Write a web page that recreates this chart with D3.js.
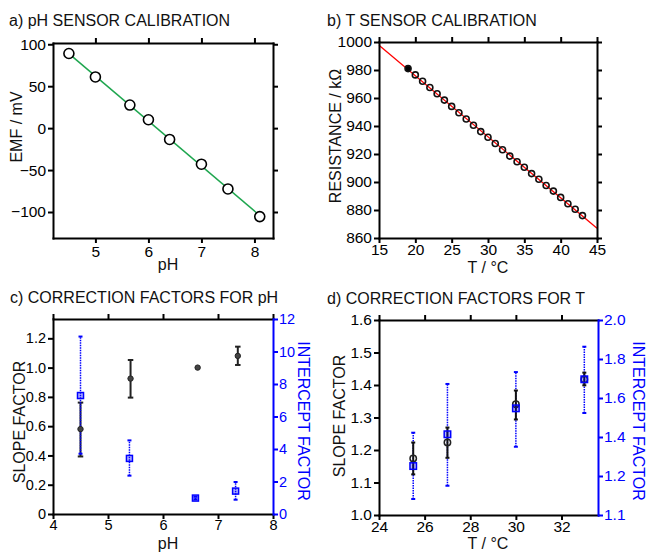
<!DOCTYPE html>
<html>
<head>
<meta charset="utf-8">
<title>sensor calibration</title>
<script src="https://cdn.jsdelivr.net/npm/d3@7"></script>
<style>
    body{
        margin:0;
        background:#fff;
        font-family:"Liberation Sans",Arial,Helvetica,sans-serif;
    }
    .title{font-size:16px;fill:#111;}
    .label{font-size:16px;fill:#111;}
</style>
</head>
<body>
<div id="chart"></div>
<script>
// a) pH sensor calibration
var phValues = [4.5, 5, 5.65, 6, 6.4, 7, 7.5, 8.1]
var emfValues = [89, 61, 27.5, 10, -13.5, -43, -72.5, -105.5]
var emfFitSlope = -53.6
var emfFitIntercept = 330
var phTicks = [5, 6, 7, 8]
var emfTicks = [-100, -50, 0, 50, 100]

// b) T sensor calibration
var tempValues = [19, 20, 21, 22, 23, 24, 25, 26, 27, 28, 29, 30, 31, 32, 33, 34, 35, 36, 37, 38, 39, 40, 41, 42, 43]
var resistanceValues = [981, 976.5, 972, 967.5, 963, 958.5, 954, 949.5, 945, 940.5, 936, 932, 927.5, 923, 918.5, 914.5, 910.5, 906, 902, 897.5, 893.5, 889, 884.5, 880.5, 876]
var resFitSlope = -4.36
var resFitIntercept = 1063.1
var tempTicks = [15, 20, 25, 30, 35, 40, 45]
var resTicks = [860, 880, 900, 920, 940, 960, 980, 1000]

// c) correction factors for pH
var cSlopePh = [4.5, 5.41, 6.63, 7.36]
var cSlope = [0.58, 0.925, 1.0, 1.08]
var cSlopeLo = [0.393, 0.795, 1.0, 1.018]
var cSlopeHi = [0.761, 1.052, 1.0, 1.143]
var cInterceptPh = [4.5, 5.39, 6.59, 7.32]
var cIntercept = [7.29, 3.42, 0.98, 1.41]
var cInterceptLo = [3.71, 2.36, 0.9, 0.88]
var cInterceptHi = [10.92, 4.53, 1.06, 1.97]
var cXTicks = [4, 5, 6, 7, 8]
var cSlopeTicks = [0, 0.2, 0.4, 0.6, 0.8, 1.0, 1.2]
var cInterceptTicks = [0, 2, 4, 6, 8, 10, 12]

// d) correction factors for T
var dTemp = [25.5, 27, 30, 33]
var dSlope = [1.174, 1.223, 1.341, 1.417]
var dSlopeLo = [1.125, 1.176, 1.294, 1.399]
var dSlopeHi = [1.223, 1.269, 1.383, 1.438]
var dIntercept = [1.251, 1.414, 1.547, 1.696]
var dInterceptLo = [1.082, 1.150, 1.350, 1.523]
var dInterceptHi = [1.422, 1.672, 1.733, 1.863]
var dXTicks = [24, 26, 28, 30, 32]
var dSlopeTicks = [1.0, 1.1, 1.2, 1.3, 1.4, 1.5, 1.6]
var dInterceptTicks = [1.0, 1.2, 1.4, 1.6, 1.8, 2.0]
var dInterceptTickLabels = ["1.1", "1.2", "1.4", "1.6", "1.8", "2.0"]

var FONT = '"Liberation Sans",Arial,Helvetica,sans-serif'
var BLUE = "#0000ff"

var svg = d3.select("#chart").append("svg").attr("width", 647).attr("height", 553)

function styleAxis(sel, color, size){
    sel.select(".domain").attr("stroke", color).attr("stroke-width", 2).attr("stroke-linecap", "square")
    sel.selectAll(".tick line").attr("stroke", color).attr("stroke-width", 2)
    sel.selectAll(".tick text").attr("fill", color).style("font-size", (size || 15.5) + "px").style("font-family", FONT)
}

function frame(g, x, y, w, h, xt, yt, xfmt, yfmt, pad, hasRightAxis, size){
    var b = g.append("g").attr("transform", "translate(0," + h + ")")
        .call(d3.axisBottom(x).tickValues(xt).tickFormat(xfmt).tickSize(5).tickSizeOuter(0).tickPadding(pad))
    styleAxis(b, "#000", size)
    var t = g.append("g")
        .call(d3.axisTop(x).tickValues(xt).tickFormat(function(){ return "" }).tickSize(5).tickSizeOuter(0))
    styleAxis(t, "#000")
    var l = g.append("g")
        .call(d3.axisLeft(y).tickValues(yt).tickFormat(yfmt).tickSize(5).tickSizeOuter(0).tickPadding(2))
    styleAxis(l, "#000", size)
    if(!hasRightAxis){
        var r = g.append("g").attr("transform", "translate(" + w + ",0)")
            .call(d3.axisRight(y).tickValues(yt).tickFormat(function(){ return "" }).tickSize(5).tickSizeOuter(0))
        styleAxis(r, "#000")
    }
}

function text(str, x, y, cls, rot, color){
    var el = svg.append("text").attr("class", cls).text(str)
    if(rot){
        el.attr("transform", "translate(" + x + "," + y + ") rotate(" + rot + ")").attr("text-anchor", "middle")
    } else {
        el.attr("x", x).attr("y", y)
        if(cls == "label") el.attr("text-anchor", "middle")
    }
    if(color) el.style("fill", color)
    return el
}

function errorBars(g, xs, lo, hi, x, y, color, width, dash, capW){
    xs.forEach(function(d, i){
        if(lo[i] == hi[i]) return
        g.append("line").attr("x1", x(d)).attr("x2", x(d)).attr("y1", y(lo[i])).attr("y2", y(hi[i]))
            .attr("stroke", color).attr("stroke-width", width).attr("stroke-dasharray", dash)
        ;[lo[i], hi[i]].forEach(function(v){
            g.append("line").attr("x1", x(d) - capW / 2).attr("x2", x(d) + capW / 2).attr("y1", y(v)).attr("y2", y(v))
                .attr("stroke", color).attr("stroke-width", 2)
        })
    })
}

function squares(g, xs, ys, x, y, size){
    g.selectAll(null).data(xs).enter().append("rect")
        .attr("x", function(d){ return x(d) - size / 2 })
        .attr("y", function(d, i){ return y(ys[i]) - size / 2 })
        .attr("width", size).attr("height", size)
        .attr("fill", "rgba(0,0,255,0.3)").attr("stroke", BLUE).attr("stroke-width", 1.5)
}

function fmt1(d){ return d == 0 ? "0" : d3.format(".1f")(d) }

// ---------- panel a ----------
;(function(){
    var w = 220, h = 195
    var g = svg.append("g").attr("transform", "translate(53,43)")
    var x = d3.scaleLinear().domain([4.2, 8.35]).range([0, w])
    var y = d3.scaleLinear().domain([-131, 101.5]).range([h, 0])
    var ends = [phValues[0], phValues[phValues.length - 1]]
    g.append("path").datum(ends)
        .attr("d", d3.line().x(function(d){ return x(d) }).y(function(d){ return y(emfFitIntercept + emfFitSlope * d) }))
        .attr("fill", "none").attr("stroke", "#1fa64f").attr("stroke-width", 1.5)
    g.selectAll(null).data(phValues).enter().append("circle")
        .attr("cx", function(d){ return x(d) })
        .attr("cy", function(d, i){ return y(emfValues[i]) })
        .attr("r", 5).attr("fill", "#fff").attr("stroke", "#000").attr("stroke-width", 1.6)
    frame(g, x, y, w, h, phTicks, emfTicks, d3.format("d"), d3.format("d"), 3, false)
    text("a) pH SENSOR CALIBRATION", 9, 26, "title")
    text("EMF / mV", 21.5, 127, "label", -90)
    text("pH", 168, 270, "label")
})()

// ---------- panel b ----------
;(function(){
    var w = 218, h = 196
    var g = svg.append("g").attr("transform", "translate(379,42)")
    var x = d3.scaleLinear().domain([15, 45]).range([0, w])
    var y = d3.scaleLinear().domain([860, 1000]).range([h, 0])
    g.append("path").datum(x.domain())
        .attr("d", d3.line().x(function(d){ return x(d) }).y(function(d){ return y(resFitIntercept + resFitSlope * d) }))
        .attr("fill", "none").attr("stroke", "#ff0000").attr("stroke-width", 1.3)
    g.selectAll(null).data(tempValues).enter().append("circle")
        .attr("cx", function(d){ return x(d) })
        .attr("cy", function(d, i){ return y(resistanceValues[i]) })
        .attr("r", 3).attr("fill", function(d, i){ return i == 0 ? "#000" : "none" })
        .attr("stroke", "#111").attr("stroke-width", 1.6)
    frame(g, x, y, w, h, tempTicks, resTicks, d3.format("d"), d3.format("d"), 1, false)
    text("b) T SENSOR CALIBRATION", 327, 26, "title")
    text("RESISTANCE / k\u03A9", 341, 136, "label", -90)
    text("T / \u00B0C", 488, 273, "label")
})()

// ---------- panel c ----------
;(function(){
    var w = 220, h = 195
    var g = svg.append("g").attr("transform", "translate(53,319)")
    var x = d3.scaleLinear().domain([4, 8]).range([0, w])
    var y = d3.scaleLinear().domain([0, 1.332]).range([h, 0])
    var y2 = d3.scaleLinear().domain([0, 12]).range([h, 0])
    errorBars(g, cSlopePh, cSlopeLo, cSlopeHi, x, y, "#222", 2, null, 5.5)
    errorBars(g, cInterceptPh, cInterceptLo, cInterceptHi, x, y2, BLUE, 1.5, "1.5,1", 4)
    g.selectAll(null).data(cSlopePh).enter().append("circle")
        .attr("cx", function(d){ return x(d) })
        .attr("cy", function(d, i){ return y(cSlope[i]) })
        .attr("r", 2.7).attr("fill", "#444").attr("stroke", "#222").attr("stroke-width", 1)
    squares(g, cInterceptPh, cIntercept, x, y2, 6)
    frame(g, x, y, w, h, cXTicks, cSlopeTicks, d3.format("d"), fmt1, 1, true, 14.5)
    var r = g.append("g").attr("transform", "translate(" + w + ",0)")
        .call(d3.axisRight(y2).tickValues(cInterceptTicks).tickFormat(d3.format("d")).tickSize(5).tickSizeOuter(0).tickPadding(1))
    styleAxis(r, BLUE, 14.5)
    text("c) CORRECTION FACTORS FOR pH", 10, 303, "title")
    text("SLOPE FACTOR", 25, 422, "label", -90)
    text("INTERCEPT FACTOR", 298, 421, "label", 90, BLUE)
    text("pH", 168, 549, "label")
})()

// ---------- panel d ----------
;(function(){
    var w = 219, h = 195
    var g = svg.append("g").attr("transform", "translate(379,320)")
    var x = d3.scaleLinear().domain([24, 33.6]).range([0, w])
    var y = d3.scaleLinear().domain([1.0, 1.6]).range([h, 0])
    var y2 = d3.scaleLinear().domain([1.0, 2.0]).range([h, 0])
    errorBars(g, dTemp, dInterceptLo, dInterceptHi, x, y2, BLUE, 1.5, "1.5,1", 4)
    errorBars(g, dTemp, dSlopeLo, dSlopeHi, x, y, "#111", 2, null, 4)
    g.selectAll(null).data(dTemp).enter().append("circle")
        .attr("cx", function(d){ return x(d) })
        .attr("cy", function(d, i){ return y(dSlope[i]) })
        .attr("r", 3.2).attr("fill", "none").attr("stroke", "#222").attr("stroke-width", 1.5)
    squares(g, dTemp, dIntercept, x, y2, 6.5)
    frame(g, x, y, w, h, dXTicks, dSlopeTicks, d3.format("d"), d3.format(".1f"), 1, true)
    var r = g.append("g").attr("transform", "translate(" + w + ",0)")
        .call(d3.axisRight(y2).tickValues(dInterceptTicks)
            .tickFormat(function(d, i){ return dInterceptTickLabels[i] }).tickSize(5).tickSizeOuter(0).tickPadding(1))
    styleAxis(r, BLUE)
    text("d) CORRECTION FACTORS FOR T", 327, 303.5, "title")
    text("SLOPE FACTOR", 345, 416, "label", -90)
    text("INTERCEPT FACTOR", 633, 421, "label", 90, BLUE)
    text("T / \u00B0C", 488, 549, "label")
})()
</script>
</body>
</html>
